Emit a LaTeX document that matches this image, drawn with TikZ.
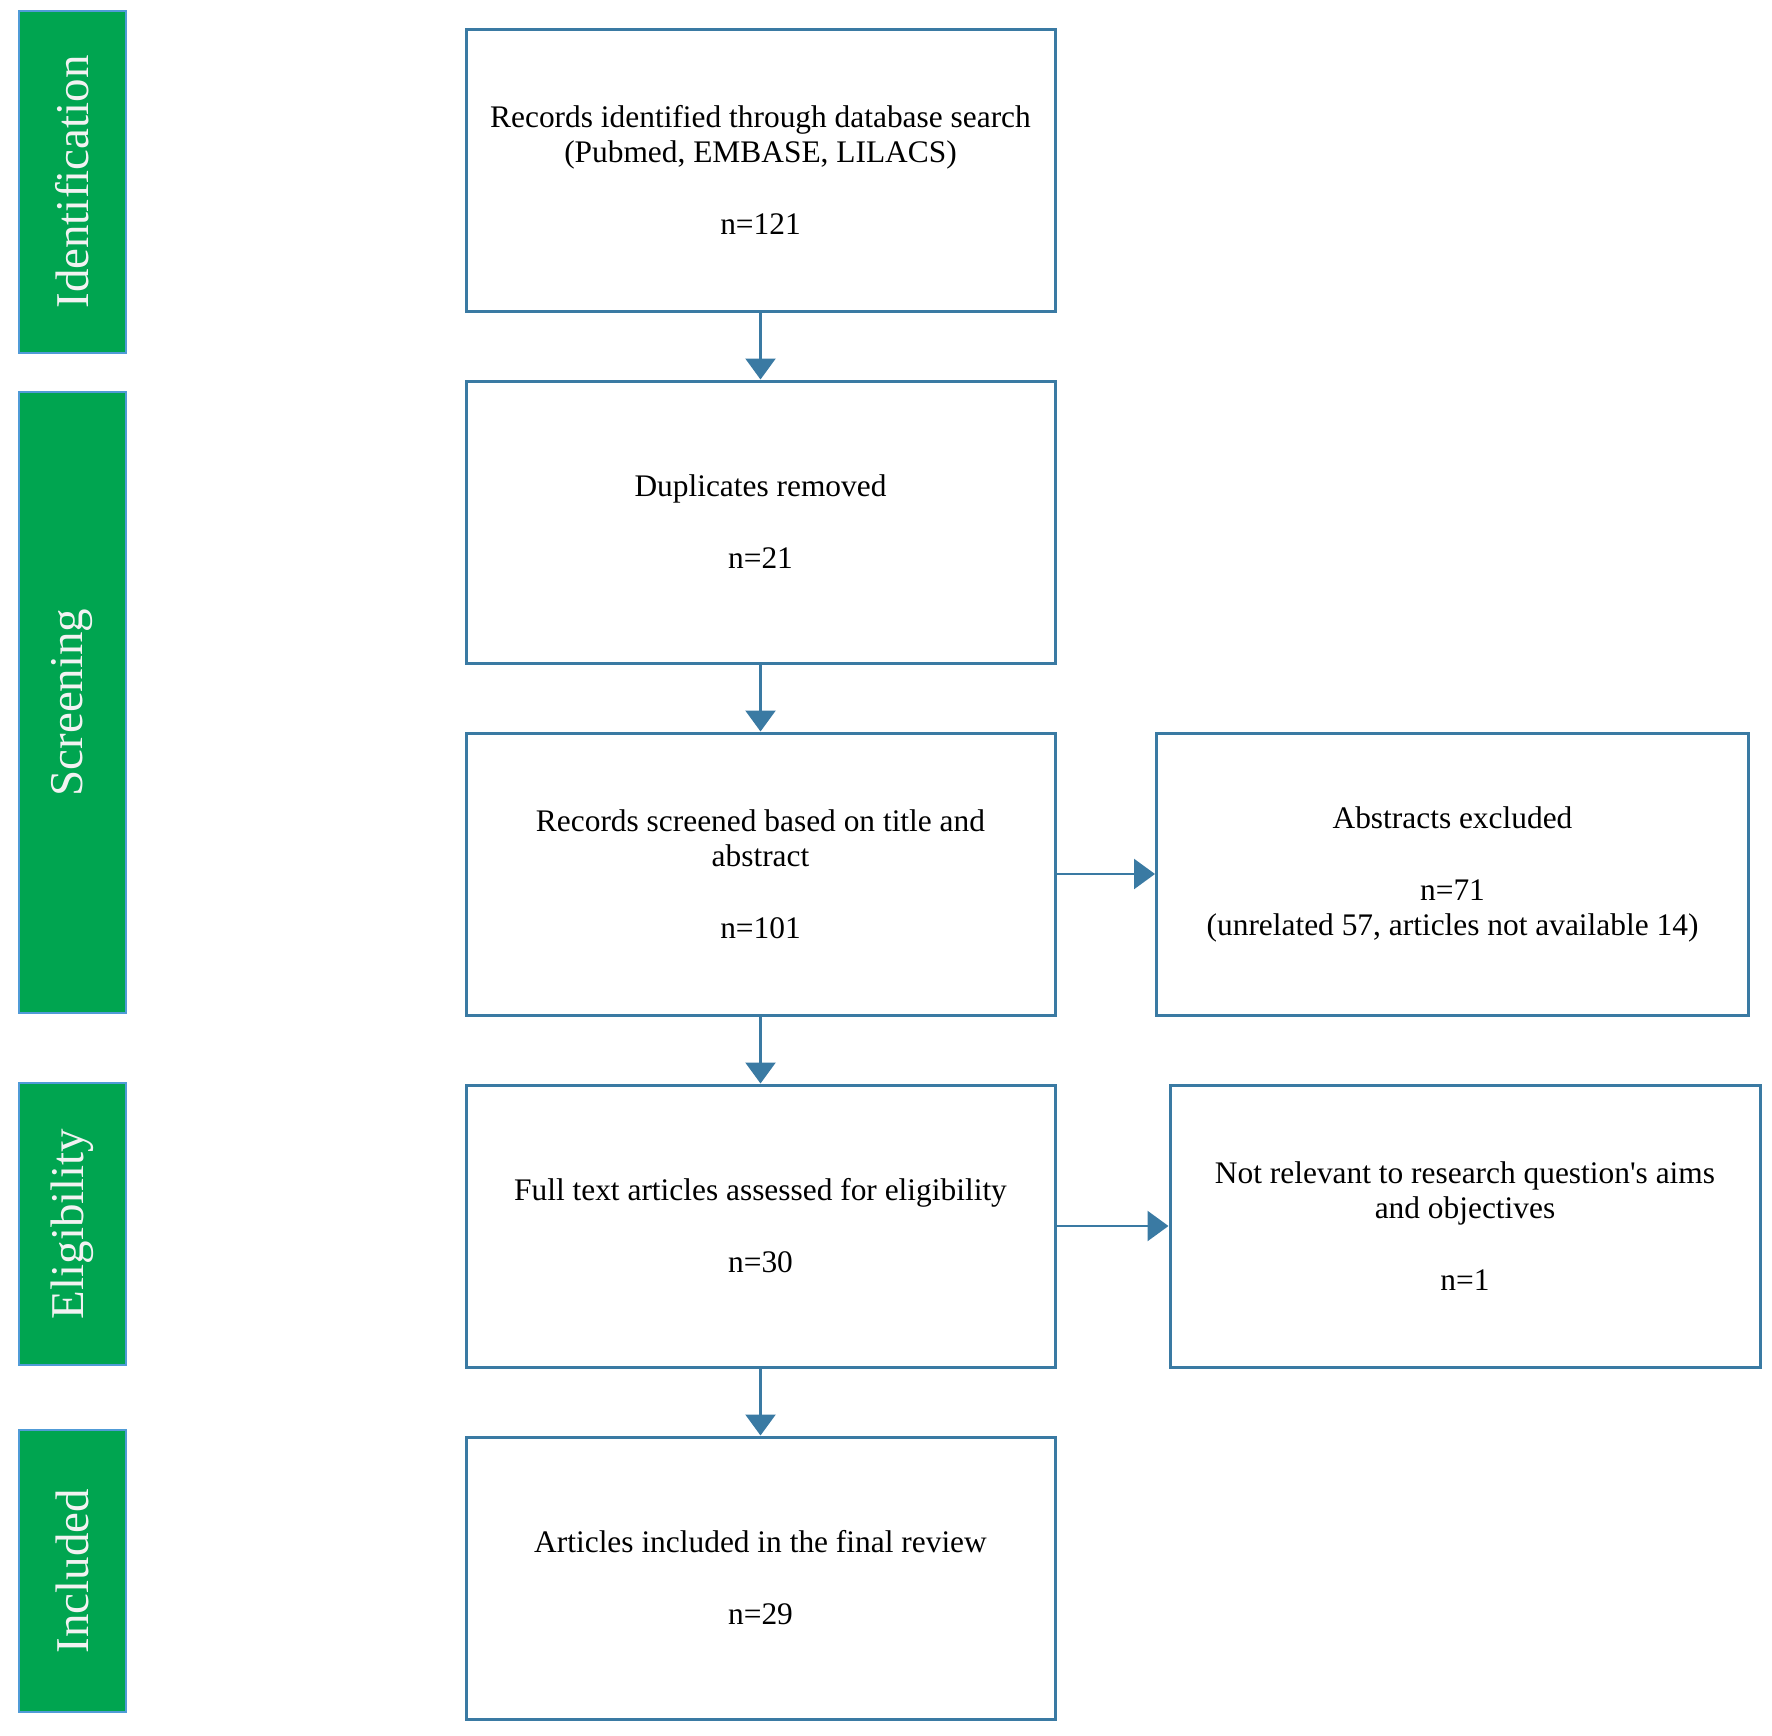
\documentclass[tikz,border=0pt]{standalone}
\usepackage{fontspec}
\setmainfont{Liberation Serif}
\usetikzlibrary{arrows.meta}
\definecolor{boxblue}{RGB}{58,122,163}
\definecolor{stagegreen}{RGB}{0,165,80}
\definecolor{stageline}{RGB}{80,155,215}

\begin{document}
\begin{tikzpicture}[
                        x=0.5pt, y=-0.5pt,
                        node distance=176pt,
                        >={Triangle[length=10.5pt,width=15pt]},
                        block/.style={rectangle, draw=boxblue, line width=1.5pt, minimum width=294.5pt, minimum height=141pt, align=center, font=\fontsize{15.7}{17.5}\selectfont},
                        stage/.style={rectangle, draw=stageline, fill=stagegreen, line width=1pt, rotate=90, minimum height=53.5pt, text=white!95!black, font=\fontsize{23.5}{28}\selectfont},
                        link/.style={->, draw=boxblue, line width=1.2pt}
                    ]
                    \useasboundingbox (0,0) rectangle (1772,1735);
                    % Stages
                    \node [stage, minimum width=171pt] (ident) at (72,182) {Identification};
                    \node [stage, minimum width=310.5pt] (screen) at (72,702.5) {Screening};
                    \node [stage, minimum width=141pt] (elig) at (72,1224) {Eligibility};
                    \node [stage, minimum width=141pt] (incl) at (72,1571) {Included};

                    % Blocks
                    \node [block] (records) at (760.5,170) {Records identified through database search\\(Pubmed, EMBASE, LILACS)\\[18.5pt]n=121};
                    \node [block, below of=records] (dupl) {Duplicates removed\\[18.5pt]n=21};
                    \node [block, below of=dupl] (screened) {Records screened based on title and\\abstract\\[18.5pt]n=101};
                    \node [block, below of=screened] (fulltext) {Full text articles assessed for eligibility\\[18.5pt]n=30};
                    \node [block, below of=fulltext] (final) {Articles included in the final review\\[18.5pt]n=29};
                    \node [block, minimum width=296pt, right of=screened, node distance=346pt] (abstr) {Abstracts excluded\\[18.5pt]n=71\\(unrelated 57, articles not available 14)};
                    \node [block, minimum width=295pt, right of=fulltext, node distance=352.25pt] (notrel) {Not relevant to research question\textquotesingle s aims\\and objectives\\[18.5pt]n=1};

                    % Connections
                    \draw [link] (records) -- (dupl);
                    \draw [link] (dupl) -- (screened);
                    \draw [link] (screened) -- (fulltext);
                    \draw [link] (fulltext) -- (final);
                    \draw [link] (screened) -- (abstr);
                    \draw [link] (fulltext) -- (notrel);
                \end{tikzpicture}
\end{document}
